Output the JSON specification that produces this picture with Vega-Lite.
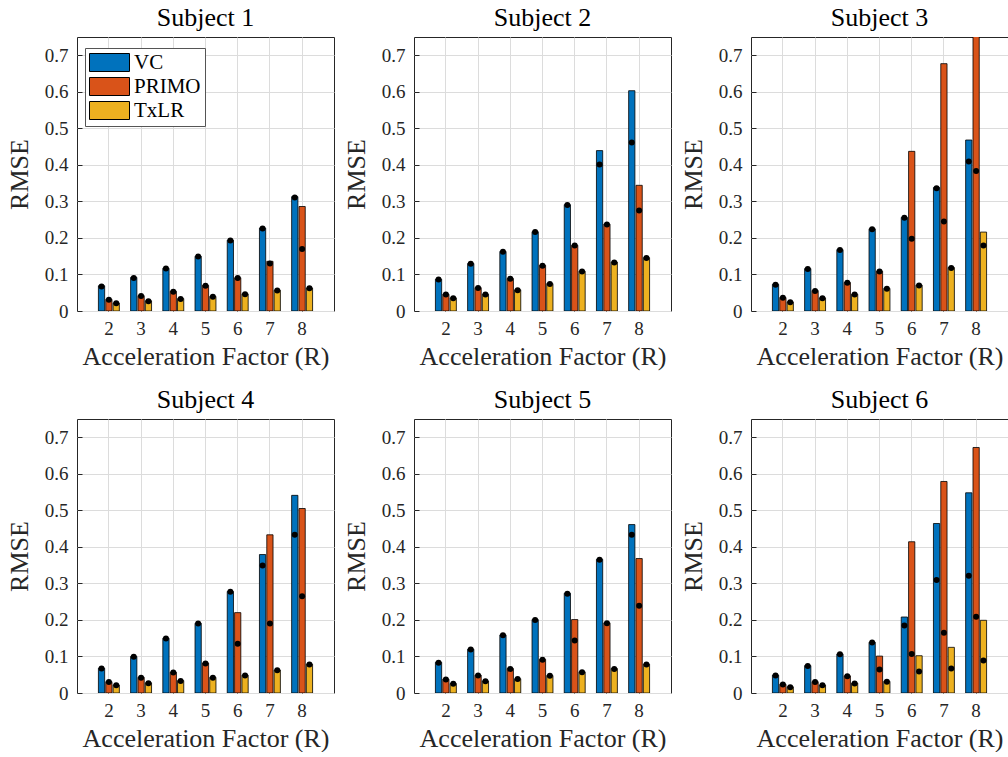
{
  "$schema": "https://vega.github.io/schema/vega-lite/v6.json",
  "padding": {"left": 5, "top": 4, "right": 0, "bottom": 0},
  "data": {"values": [
    {"s":"Subject 1","R":2,"m":"VC","v":0.069,"d":0.067},{"s":"Subject 1","R":2,"m":"PRIMO","v":0.032,"d":0.031},{"s":"Subject 1","R":2,"m":"TxLR","v":0.022,"d":0.021},
    {"s":"Subject 1","R":3,"m":"VC","v":0.092,"d":0.090},{"s":"Subject 1","R":3,"m":"PRIMO","v":0.042,"d":0.041},{"s":"Subject 1","R":3,"m":"TxLR","v":0.028,"d":0.027},
    {"s":"Subject 1","R":4,"m":"VC","v":0.117,"d":0.116},{"s":"Subject 1","R":4,"m":"PRIMO","v":0.054,"d":0.053},{"s":"Subject 1","R":4,"m":"TxLR","v":0.034,"d":0.033},
    {"s":"Subject 1","R":5,"m":"VC","v":0.150,"d":0.149},{"s":"Subject 1","R":5,"m":"PRIMO","v":0.070,"d":0.069},{"s":"Subject 1","R":5,"m":"TxLR","v":0.040,"d":0.039},
    {"s":"Subject 1","R":6,"m":"VC","v":0.194,"d":0.193},{"s":"Subject 1","R":6,"m":"PRIMO","v":0.091,"d":0.090},{"s":"Subject 1","R":6,"m":"TxLR","v":0.047,"d":0.046},
    {"s":"Subject 1","R":7,"m":"VC","v":0.227,"d":0.226},{"s":"Subject 1","R":7,"m":"PRIMO","v":0.136,"d":0.130},{"s":"Subject 1","R":7,"m":"TxLR","v":0.057,"d":0.056},
    {"s":"Subject 1","R":8,"m":"VC","v":0.313,"d":0.311},{"s":"Subject 1","R":8,"m":"PRIMO","v":0.286,"d":0.170},{"s":"Subject 1","R":8,"m":"TxLR","v":0.063,"d":0.062},

    {"s":"Subject 2","R":2,"m":"VC","v":0.087,"d":0.086},{"s":"Subject 2","R":2,"m":"PRIMO","v":0.046,"d":0.045},{"s":"Subject 2","R":2,"m":"TxLR","v":0.036,"d":0.035},
    {"s":"Subject 2","R":3,"m":"VC","v":0.130,"d":0.129},{"s":"Subject 2","R":3,"m":"PRIMO","v":0.064,"d":0.063},{"s":"Subject 2","R":3,"m":"TxLR","v":0.046,"d":0.045},
    {"s":"Subject 2","R":4,"m":"VC","v":0.163,"d":0.162},{"s":"Subject 2","R":4,"m":"PRIMO","v":0.089,"d":0.088},{"s":"Subject 2","R":4,"m":"TxLR","v":0.058,"d":0.057},
    {"s":"Subject 2","R":5,"m":"VC","v":0.217,"d":0.216},{"s":"Subject 2","R":5,"m":"PRIMO","v":0.125,"d":0.124},{"s":"Subject 2","R":5,"m":"TxLR","v":0.075,"d":0.074},
    {"s":"Subject 2","R":6,"m":"VC","v":0.291,"d":0.290},{"s":"Subject 2","R":6,"m":"PRIMO","v":0.180,"d":0.179},{"s":"Subject 2","R":6,"m":"TxLR","v":0.109,"d":0.108},
    {"s":"Subject 2","R":7,"m":"VC","v":0.439,"d":0.401},{"s":"Subject 2","R":7,"m":"PRIMO","v":0.238,"d":0.237},{"s":"Subject 2","R":7,"m":"TxLR","v":0.134,"d":0.133},
    {"s":"Subject 2","R":8,"m":"VC","v":0.603,"d":0.461},{"s":"Subject 2","R":8,"m":"PRIMO","v":0.344,"d":0.275},{"s":"Subject 2","R":8,"m":"TxLR","v":0.146,"d":0.145},

    {"s":"Subject 3","R":2,"m":"VC","v":0.073,"d":0.072},{"s":"Subject 3","R":2,"m":"PRIMO","v":0.037,"d":0.036},{"s":"Subject 3","R":2,"m":"TxLR","v":0.025,"d":0.024},
    {"s":"Subject 3","R":3,"m":"VC","v":0.116,"d":0.115},{"s":"Subject 3","R":3,"m":"PRIMO","v":0.056,"d":0.055},{"s":"Subject 3","R":3,"m":"TxLR","v":0.036,"d":0.035},
    {"s":"Subject 3","R":4,"m":"VC","v":0.168,"d":0.167},{"s":"Subject 3","R":4,"m":"PRIMO","v":0.078,"d":0.077},{"s":"Subject 3","R":4,"m":"TxLR","v":0.046,"d":0.045},
    {"s":"Subject 3","R":5,"m":"VC","v":0.225,"d":0.224},{"s":"Subject 3","R":5,"m":"PRIMO","v":0.109,"d":0.108},{"s":"Subject 3","R":5,"m":"TxLR","v":0.062,"d":0.061},
    {"s":"Subject 3","R":6,"m":"VC","v":0.256,"d":0.255},{"s":"Subject 3","R":6,"m":"PRIMO","v":0.437,"d":0.198},{"s":"Subject 3","R":6,"m":"TxLR","v":0.071,"d":0.070},
    {"s":"Subject 3","R":7,"m":"VC","v":0.338,"d":0.336},{"s":"Subject 3","R":7,"m":"PRIMO","v":0.677,"d":0.245},{"s":"Subject 3","R":7,"m":"TxLR","v":0.119,"d":0.118},
    {"s":"Subject 3","R":8,"m":"VC","v":0.468,"d":0.409},{"s":"Subject 3","R":8,"m":"PRIMO","v":0.800,"d":0.383},{"s":"Subject 3","R":8,"m":"TxLR","v":0.216,"d":0.179},

    {"s":"Subject 4","R":2,"m":"VC","v":0.068,"d":0.067},{"s":"Subject 4","R":2,"m":"PRIMO","v":0.031,"d":0.030},{"s":"Subject 4","R":2,"m":"TxLR","v":0.022,"d":0.021},
    {"s":"Subject 4","R":3,"m":"VC","v":0.100,"d":0.099},{"s":"Subject 4","R":3,"m":"PRIMO","v":0.043,"d":0.042},{"s":"Subject 4","R":3,"m":"TxLR","v":0.028,"d":0.027},
    {"s":"Subject 4","R":4,"m":"VC","v":0.150,"d":0.149},{"s":"Subject 4","R":4,"m":"PRIMO","v":0.057,"d":0.056},{"s":"Subject 4","R":4,"m":"TxLR","v":0.034,"d":0.033},
    {"s":"Subject 4","R":5,"m":"VC","v":0.191,"d":0.190},{"s":"Subject 4","R":5,"m":"PRIMO","v":0.082,"d":0.081},{"s":"Subject 4","R":5,"m":"TxLR","v":0.043,"d":0.042},
    {"s":"Subject 4","R":6,"m":"VC","v":0.278,"d":0.277},{"s":"Subject 4","R":6,"m":"PRIMO","v":0.220,"d":0.135},{"s":"Subject 4","R":6,"m":"TxLR","v":0.049,"d":0.048},
    {"s":"Subject 4","R":7,"m":"VC","v":0.379,"d":0.349},{"s":"Subject 4","R":7,"m":"PRIMO","v":0.433,"d":0.190},{"s":"Subject 4","R":7,"m":"TxLR","v":0.063,"d":0.062},
    {"s":"Subject 4","R":8,"m":"VC","v":0.541,"d":0.433},{"s":"Subject 4","R":8,"m":"PRIMO","v":0.505,"d":0.265},{"s":"Subject 4","R":8,"m":"TxLR","v":0.079,"d":0.078},

    {"s":"Subject 5","R":2,"m":"VC","v":0.084,"d":0.083},{"s":"Subject 5","R":2,"m":"PRIMO","v":0.038,"d":0.037},{"s":"Subject 5","R":2,"m":"TxLR","v":0.026,"d":0.025},
    {"s":"Subject 5","R":3,"m":"VC","v":0.120,"d":0.119},{"s":"Subject 5","R":3,"m":"PRIMO","v":0.049,"d":0.048},{"s":"Subject 5","R":3,"m":"TxLR","v":0.033,"d":0.032},
    {"s":"Subject 5","R":4,"m":"VC","v":0.159,"d":0.158},{"s":"Subject 5","R":4,"m":"PRIMO","v":0.067,"d":0.066},{"s":"Subject 5","R":4,"m":"TxLR","v":0.039,"d":0.038},
    {"s":"Subject 5","R":5,"m":"VC","v":0.201,"d":0.200},{"s":"Subject 5","R":5,"m":"PRIMO","v":0.092,"d":0.091},{"s":"Subject 5","R":5,"m":"TxLR","v":0.048,"d":0.047},
    {"s":"Subject 5","R":6,"m":"VC","v":0.273,"d":0.272},{"s":"Subject 5","R":6,"m":"PRIMO","v":0.201,"d":0.144},{"s":"Subject 5","R":6,"m":"TxLR","v":0.058,"d":0.057},
    {"s":"Subject 5","R":7,"m":"VC","v":0.366,"d":0.365},{"s":"Subject 5","R":7,"m":"PRIMO","v":0.192,"d":0.191},{"s":"Subject 5","R":7,"m":"TxLR","v":0.067,"d":0.066},
    {"s":"Subject 5","R":8,"m":"VC","v":0.461,"d":0.433},{"s":"Subject 5","R":8,"m":"PRIMO","v":0.368,"d":0.239},{"s":"Subject 5","R":8,"m":"TxLR","v":0.079,"d":0.078},

    {"s":"Subject 6","R":2,"m":"VC","v":0.049,"d":0.048},{"s":"Subject 6","R":2,"m":"PRIMO","v":0.024,"d":0.023},{"s":"Subject 6","R":2,"m":"TxLR","v":0.017,"d":0.016},
    {"s":"Subject 6","R":3,"m":"VC","v":0.075,"d":0.074},{"s":"Subject 6","R":3,"m":"PRIMO","v":0.031,"d":0.030},{"s":"Subject 6","R":3,"m":"TxLR","v":0.022,"d":0.021},
    {"s":"Subject 6","R":4,"m":"VC","v":0.107,"d":0.106},{"s":"Subject 6","R":4,"m":"PRIMO","v":0.047,"d":0.046},{"s":"Subject 6","R":4,"m":"TxLR","v":0.027,"d":0.026},
    {"s":"Subject 6","R":5,"m":"VC","v":0.139,"d":0.138},{"s":"Subject 6","R":5,"m":"PRIMO","v":0.101,"d":0.064},{"s":"Subject 6","R":5,"m":"TxLR","v":0.032,"d":0.031},
    {"s":"Subject 6","R":6,"m":"VC","v":0.208,"d":0.185},{"s":"Subject 6","R":6,"m":"PRIMO","v":0.414,"d":0.107},{"s":"Subject 6","R":6,"m":"TxLR","v":0.102,"d":0.059},
    {"s":"Subject 6","R":7,"m":"VC","v":0.464,"d":0.309},{"s":"Subject 6","R":7,"m":"PRIMO","v":0.579,"d":0.165},{"s":"Subject 6","R":7,"m":"TxLR","v":0.125,"d":0.067},
    {"s":"Subject 6","R":8,"m":"VC","v":0.548,"d":0.321},{"s":"Subject 6","R":8,"m":"PRIMO","v":0.672,"d":0.209},{"s":"Subject 6","R":8,"m":"TxLR","v":0.199,"d":0.089}
  ]},
  "facet": {"field": "s", "type": "nominal", "title": null,
    "header": {"title": null, "labelFontSize": 26, "labelColor": "#000000", "labelPadding": 6, "labelFont": "Liberation Serif"}},
  "columns": 3,
  "spacing": {"column": 7, "row": 16},
  "resolve": {"axis": {"x": "independent", "y": "independent"}},
  "spec": {
    "width": 257,
    "height": 274,
    "encoding": {
      "x": {"field": "R", "type": "ordinal",
        "scale": {"paddingInner": 0.35, "paddingOuter": 0.665},
        "axis": {"title": "Acceleration Factor (R)", "labelAngle": 0, "bandPosition": 0.5, "labelPadding": 13, "titlePadding": 5}},
      "xOffset": {"field": "m", "type": "nominal", "sort": ["VC", "PRIMO", "TxLR"],
        "scale": {"paddingInner": 0.15, "paddingOuter": 0}}
    },
    "layer": [
      {
        "mark": {"type": "bar", "stroke": "#000000", "strokeWidth": 0.8, "clip": true},
        "encoding": {
          "y": {"field": "v", "type": "quantitative",
            "scale": {"domain": [0, 0.75], "nice": false},
            "axis": {"title": "RMSE", "values": [0, 0.1, 0.2, 0.3, 0.4, 0.5, 0.6, 0.7], "labelOverlap": false,
              "labelExpr": "datum.value == 0 ? '0' : format(datum.value, '.1f')", "labelPadding": 14, "titlePadding": 12}},
          "color": {"field": "m", "type": "nominal", "sort": ["VC", "PRIMO", "TxLR"],
            "scale": {"domain": ["VC", "PRIMO", "TxLR"], "range": ["#0072BD", "#D95319", "#EDB120"]},
            "legend": {"title": null, "orient": "none", "legendX": 8, "legendY": 11,
              "symbolType": "M-1,-0.9H3V0.9H-1Z", "symbolSize": 400,
              "symbolStrokeColor": "#000000", "symbolStrokeWidth": 1, "symbolOpacity": 1,
              "labelFontSize": 21, "labelFont": "Liberation Serif", "labelColor": "#000000", "labelOffset": 24,
              "rowPadding": 1, "padding": 4, "fillColor": "#ffffff", "strokeColor": "#555555"}}
        }
      },
      {
        "mark": {"type": "circle", "color": "#000000", "opacity": 1, "size": 36, "clip": true},
        "encoding": {
          "y": {"field": "d", "type": "quantitative", "scale": {"domain": [0, 0.75], "nice": false},
            "axis": {"title": "RMSE", "values": [0, 0.1, 0.2, 0.3, 0.4, 0.5, 0.6, 0.7], "labelOverlap": false,
              "labelExpr": "datum.value == 0 ? '0' : format(datum.value, '.1f')", "labelPadding": 14, "titlePadding": 12}}
        }
      }
    ]
  },
  "config": {
    "font": "Liberation Serif",
    "view": {"stroke": "#262626", "strokeWidth": 1},
    "axis": {
      "labelFont": "Liberation Serif", "titleFont": "Liberation Serif",
      "labelFontSize": 19, "titleFontSize": 26, "titleFontWeight": "normal",
      "labelColor": "#262626", "titleColor": "#262626",
      "gridColor": "#dcdcdc", "gridWidth": 1, "grid": true,
      "ticks": true, "tickSize": -5, "tickColor": "#262626", "domain": false
    }
  }
}
